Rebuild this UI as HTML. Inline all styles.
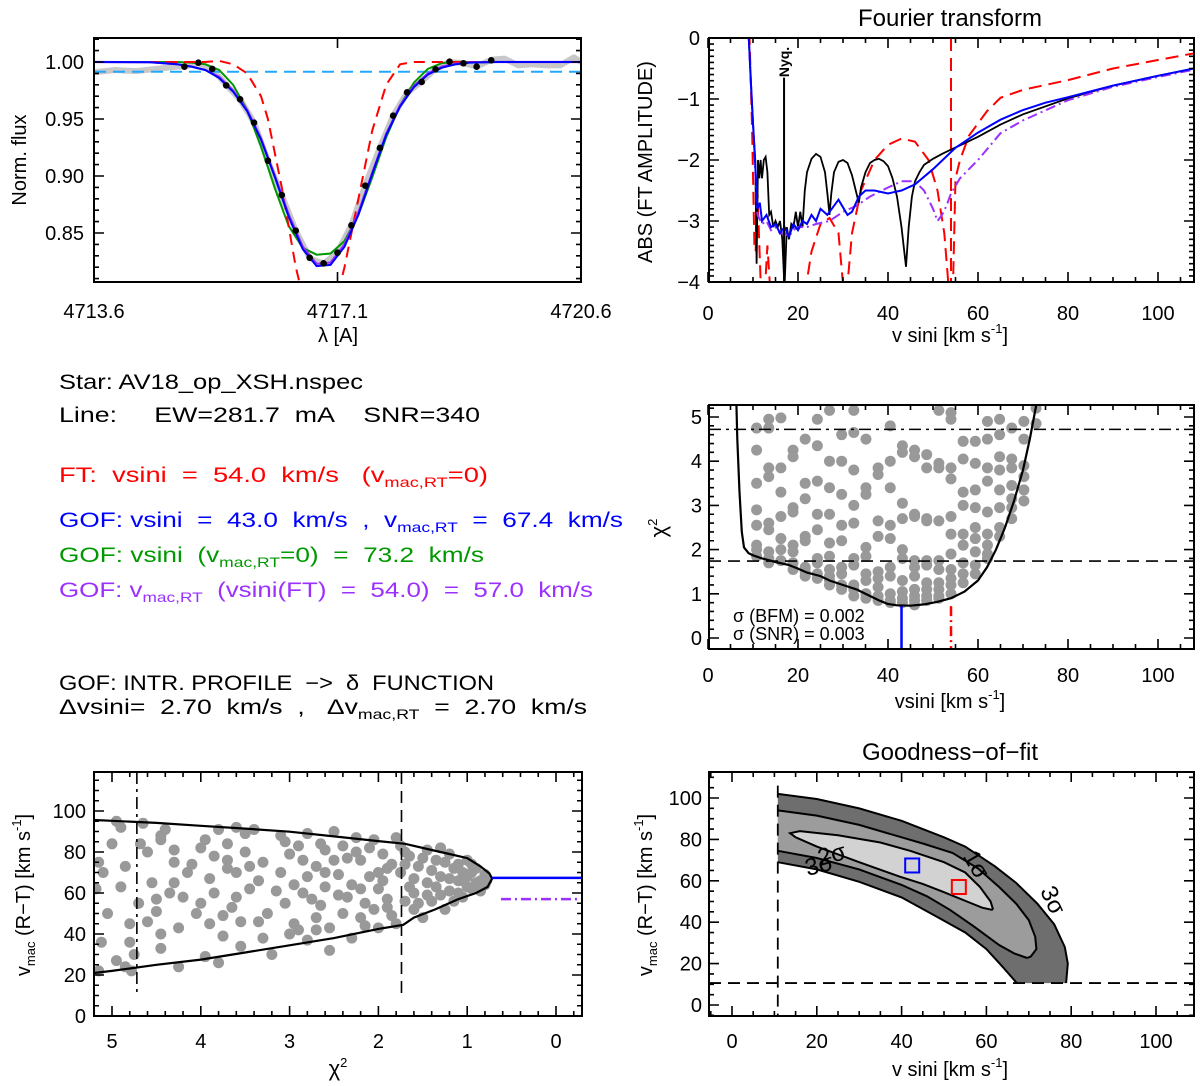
<!DOCTYPE html>
<html><head><meta charset="utf-8">
<style>
html,body{margin:0;padding:0;background:#fff;}
svg{display:block;font-family:"Liberation Sans",sans-serif;}
</style></head>
<body>
<svg id="fig" width="1200" height="1086" viewBox="0 0 1200 1086" xmlns="http://www.w3.org/2000/svg">
<defs>
<clipPath id="c1"><rect x="94" y="38" width="487" height="244"/></clipPath>
<clipPath id="c2"><rect x="709" y="38" width="485" height="244"/></clipPath>
<clipPath id="c3"><rect x="709" y="405" width="485" height="244"/></clipPath>
<clipPath id="c4"><rect x="94" y="772" width="488" height="244"/></clipPath>
<clipPath id="c6"><rect x="709" y="772" width="485" height="244"/></clipPath>
</defs>
<g font-size="21">
<text x="59" y="389" textLength="304" lengthAdjust="spacingAndGlyphs">Star: AV18_op_XSH.nspec</text>
<text x="59" y="422" textLength="421" lengthAdjust="spacingAndGlyphs" xml:space="preserve">Line:     EW=281.7  mA    SNR=340</text>
<text x="59" y="482" fill="#ff0000" textLength="429" lengthAdjust="spacingAndGlyphs" xml:space="preserve">FT:  vsini  =  54.0  km/s   (v<tspan font-size="14" dy="5">mac,RT</tspan><tspan dy="-5">=0)</tspan></text>
<text x="59" y="527" fill="#0000ff" textLength="564" lengthAdjust="spacingAndGlyphs" xml:space="preserve">GOF: vsini  =  43.0  km/s  ,  v<tspan font-size="14" dy="5">mac,RT</tspan><tspan dy="-5">  =  67.4  km/s</tspan></text>
<text x="59" y="562" fill="#009900" textLength="425" lengthAdjust="spacingAndGlyphs" xml:space="preserve">GOF: vsini  (v<tspan font-size="14" dy="5">mac,RT</tspan><tspan dy="-5">=0)  =  73.2  km/s</tspan></text>
<text x="59" y="597" fill="#9b30ff" textLength="534" lengthAdjust="spacingAndGlyphs" xml:space="preserve">GOF: v<tspan font-size="14" dy="5">mac,RT</tspan><tspan dy="-5">  (vsini(FT)  =  54.0)  =  57.0  km/s</tspan></text>
<text x="59" y="690" textLength="435" lengthAdjust="spacingAndGlyphs" xml:space="preserve">GOF: INTR. PROFILE  −&gt;  δ  FUNCTION</text>
<text x="59" y="714" textLength="528" lengthAdjust="spacingAndGlyphs" xml:space="preserve">Δvsini=  2.70  km/s  ,   Δv<tspan font-size="14" dy="5">mac,RT</tspan><tspan dy="-5">  =  2.70  km/s</tspan></text>
</g>
</svg>
<script>
// ===== Panel 1: line profile data =====
const p1DotLam = [4714.90,4715.10,4715.30,4715.50,4715.70,4715.90,4716.10,4716.30,4716.50,4716.70,4716.90,4717.10,4717.30,4717.50,4717.71,4717.90,4718.10,4718.31,4718.51,4718.71,4718.91,4719.10,4719.31];
const p1DotFlux = [0.9959,0.9994,0.9939,0.9795,0.9673,0.9468,0.9134,0.8833,0.852,0.8283,0.8234,0.8327,0.8567,0.8915,0.9246,0.9529,0.9734,0.9825,0.9936,1.0003,0.9989,0.9959,1.0015];
const p1ObsLam = [4713.6,4713.9,4714.2,4714.5,4714.8,4714.9,4715.1,4715.3,4715.5,4715.7,4715.9,4716.1,4716.3,4716.5,4716.7,4716.9,4717.1,4717.3,4717.5,4717.71,4717.9,4718.1,4718.31,4718.51,4718.71,4718.91,4719.1,4719.31,4719.5,4719.7,4719.9,4720.1,4720.3,4720.5,4720.6];
const p1ObsFlux = [0.991,0.993,0.992,0.994,0.996,0.996,0.999,0.994,0.980,0.967,0.947,0.913,0.883,0.852,0.828,0.823,0.833,0.857,0.892,0.925,0.953,0.973,0.983,0.994,1.000,0.999,0.996,1.002,1.003,0.997,0.998,0.997,0.997,1.004,1.000];
const p1Lam = [4713.6,4714.4,4714.8,4715.0,4715.2,4715.4,4715.6,4715.8,4716.0,4716.2,4716.4,4716.6,4716.8,4717.0,4717.2,4717.4,4717.6,4717.8,4718.0,4718.2,4718.4,4718.6,4718.8,4719.0,4719.4,4720.6];
const p1Blue = [1.0,0.9998,0.998,0.996,0.993,0.986,0.974,0.957,0.932,0.899,0.864,0.836,0.821,0.822,0.838,0.866,0.902,0.936,0.961,0.978,0.989,0.995,0.998,0.9995,1.0,1.0];
const p1Purple = [1.0,0.9998,0.998,0.996,0.993,0.987,0.975,0.958,0.933,0.900,0.866,0.838,0.823,0.824,0.840,0.868,0.903,0.937,0.962,0.979,0.990,0.996,0.9985,0.9997,1.0,1.0];
const p1Green = [1.0,1.0,1.0,0.9995,0.998,0.993,0.980,0.958,0.926,0.889,0.856,0.837,0.831,0.832,0.843,0.866,0.899,0.934,0.962,0.982,0.994,0.999,1.0,1.0,1.0,1.0];
const p1RedLam = [4713.6,4715.2,4715.4,4715.6,4715.8,4716.0,4716.1,4716.3,4716.5,4716.6,4716.9,4717.1,4717.2,4717.4,4717.6,4717.8,4718.0,4718.2,4720.6];
const p1Red = [1.0,1.0,1.001,0.998,0.99,0.97,0.95,0.89,0.82,0.795,0.785,0.795,0.82,0.88,0.94,0.98,0.998,1.0,1.0];
const p1Cont = [0.9915];
const p1YTicks = [0.85,0.90,0.95,1.00];
const p1XTicks = [4713.6,4717.1,4720.6];

// ===== Panel 2: Fourier transform =====
const ftBlackV = [9,9.5,10,10.5,10.8,11.1,11.4,11.7,12,12.4,12.8,13.2,13.6,14,14.5,15,15.5,16,16.5,17,17.5,18,18.5,19,19.5,20,20.5,21,21.5,22,23,24,25,26,26.6,27,27.4,28,29,30,31,32,33,33.5,34,35,36,37,38,39,40,41,42,43,44,44.6,45.3,46,47,48,50,52,54,56,60,65,70,80,90,100,108];
const ftBlackA = [0.1,-0.7,-1.4,-2.0,-3.7,-2.0,-2.3,-2.0,-2.3,-2.0,-1.95,-2.2,-2.9,-2.85,-3.1,-3.0,-3.1,-3.0,-3.3,-4.1,-3.1,-3.3,-3.05,-3.1,-2.85,-3.1,-2.85,-3.1,-2.5,-2.2,-1.98,-1.9,-1.95,-2.2,-2.6,-2.9,-2.55,-2.2,-2.03,-2.0,-2.05,-2.25,-2.55,-2.7,-2.45,-2.2,-2.05,-2.0,-1.98,-2.02,-2.1,-2.3,-2.6,-3.1,-3.75,-3.1,-2.6,-2.35,-2.2,-2.08,-1.98,-1.9,-1.83,-1.76,-1.62,-1.42,-1.25,-0.99,-0.78,-0.62,-0.5];
const ftBlueV = [9,9.5,10,10.5,11,11.5,12,13,14,15,16,17,18,19,20,21,22,23,24,25,26.5,28,29,31,32,33.5,35,37,40,43,46,50,55,60,65,70,75,80,90,100,108];
const ftBlueA = [0.1,-0.7,-1.4,-2.1,-2.8,-2.7,-3.0,-2.9,-3.1,-3.05,-3.2,-3.1,-3.25,-3.05,-3.15,-3.0,-3.05,-2.9,-3.0,-2.8,-2.9,-2.75,-2.65,-2.9,-2.85,-2.6,-2.5,-2.5,-2.55,-2.5,-2.4,-2.15,-1.8,-1.55,-1.34,-1.18,-1.06,-0.97,-0.78,-0.62,-0.5];
const ftPurpleV = [9,9.5,10,10.5,11,12,13,14,15,16,17,18,19,20,22,24,27,30,33,36,40,43,46,48,50,51,52,53,54,56,60,65,70,80,90,100,108];
const ftPurpleA = [0.1,-0.7,-1.4,-2.2,-2.9,-3.05,-3.0,-3.15,-3.1,-3.2,-3.2,-3.25,-3.15,-3.1,-3.1,-3.05,-3.0,-2.85,-2.75,-2.6,-2.45,-2.35,-2.35,-2.5,-2.8,-3.0,-2.9,-2.75,-2.55,-2.3,-2.0,-1.56,-1.35,-1.02,-0.8,-0.64,-0.52];
const ftRedV = [9.2,9.8,10.3,10.6,10.9,11.3,11.8,null,12.6,13.2,13.9,null,21.5,23,25,27,29,30.2,null,30.8,32,34,37,40,43,46,49,51,52.5,53.6,null,54.4,55,56,58,62,65,70,80,90,100,108];
const ftRedA = [0.1,-1.5,-3.4,-3.5,-2.3,-3.2,-4.2,null,-4.2,-3.4,-4.2,null,-4.2,-3.5,-3.05,-2.95,-3.2,-4.2,null,-4.2,-3.2,-2.5,-2.0,-1.75,-1.65,-1.7,-2.0,-2.5,-3.2,-4.2,null,-4.2,-2.3,-2.0,-1.6,-1.2,-0.98,-0.85,-0.69,-0.5,-0.36,-0.25];
const ftVsini = [54.0];
const ftNyq = [16.9];
const p2XTicks = [0,20,40,60,80,100];
const p2YTicks = [0,-1,-2,-3,-4];

// ===== Panel 3: chi2 vs vsini =====
const chiCols = [10.8,13.5,16.2,18.9,21.6,24.3,27.0,29.7,32.4,35.1,37.8,40.5,43.2,45.9,48.6,51.3,54.0,56.7,59.4,62.1,64.8,67.5,70.2,72.9];
const chiColVals = [
[4.75,4.25,3.5,2.9,2.55,2.1,2.0,1.85],
[4.95,4.75,3.85,3.65,2.6,2.45,1.95,1.8,1.7],
[4.98,3.85,3.3,2.75,2.25,2.0,1.75],
[4.25,4.1,2.95,2.85,2.1,1.95,1.7,1.55],
[4.5,3.5,3.15,2.3,2.2,1.6,1.5,1.4],
[4.95,4.35,3.55,2.8,2.45,1.8,1.7,1.45,1.35],
[5.15,4.0,3.4,2.8,2.15,1.85,1.55,1.4,1.3,1.2],
[4.6,4.0,3.25,2.55,2.2,1.6,1.45,1.2,1.1],
[5.15,4.65,3.8,3.0,2.6,1.8,1.65,1.2,1.1,0.95],
[4.5,3.4,3.25,2.05,1.85,1.45,1.3,1.0,0.9],
[3.85,3.7,2.65,2.3,1.5,1.35,1.15,0.95,0.85],
[4.8,4.0,3.4,2.55,2.25,1.6,1.4,1.0,0.85,0.8],
[4.35,4.2,3.05,2.7,2.0,1.8,1.3,1.05,0.9,0.8],
[4.25,4.1,2.8,2.75,1.75,1.6,1.4,1.1,0.95,0.85,0.75],
[4.15,3.85,2.7,2.65,1.75,1.65,1.25,1.1,0.95,0.85],
[5.15,3.95,3.85,2.65,1.75,1.55,1.25,1.1,0.95,0.9],
[5.1,4.95,3.85,3.6,2.75,2.35,1.9,1.55,1.35,1.2,1.0],
[4.45,4.05,3.3,3.0,2.35,2.1,1.7,1.45,1.25],
[4.45,3.95,3.35,2.95,2.5,2.25,1.95,1.65,1.45],
[4.9,4.5,3.85,3.55,2.85,2.35,2.1,1.9,1.8],
[4.95,4.6,4.1,3.8,3.35,2.95,2.5,2.3],
[4.75,4.05,3.85,3.45,3.15,2.95,2.7],
[4.9,4.5,3.9,3.65,3.35,3.1],
[5.2,4.85]];
const chiCurveV = [6.3,6.5,7,7.5,8,9,10,12,15,18,20,22,25,27,30,33,36,38,40,42,45,48,51,54,57,60,62,64,66,68,70,71.5,73];
const chiCurveC = [5.3,4.5,3.3,2.4,2.05,1.92,1.87,1.8,1.72,1.65,1.57,1.48,1.4,1.3,1.2,1.1,0.95,0.85,0.77,0.74,0.73,0.76,0.82,0.9,1.05,1.3,1.6,2.0,2.5,3.1,3.8,4.5,5.3];
const chiLevels = [4.72,1.74];
const gofVsini = [43.0];
const p3XTicks = [0,20,40,60,80,100];
const p3YTicks = [0,1,2,3,4,5];

// ===== Panel 4: vmac vs chi2 =====
const p4Pts = [[5.15,75],[5.1,70],[5.18,62],[5.12,36],[5.15,22],[4.95,95],[4.9,92],[4.85,73],[4.9,63],[4.95,27],[4.8,45],[4.8,36],[4.85,24],[4.78,22],[4.65,94],[4.68,84],[4.55,65],[4.45,88],[4.4,91],[4.45,86],[4.5,57],[4.5,51],[4.45,40],[4.45,33],[4.3,81],[4.3,65],[4.25,43],[4.25,24],[4.15,70],[4.1,74],[4.05,50],[4.0,55],[3.95,29],[3.9,67],[3.85,78],[3.85,60],[3.8,91],[3.8,26],[3.75,49],[3.75,39],[3.7,84],[3.7,76],[3.7,72],[3.65,53],[3.6,92],[3.55,46],[3.55,34],[3.5,89],[3.45,62],[3.45,73],[3.4,91],[3.35,66],[3.35,46],[3.3,75],[3.2,30],[3.1,88],[3.05,85],[3.05,55],[3.0,79],[2.95,64],[2.95,45],[2.9,42],[2.85,76],[2.8,89],[2.8,68],[2.8,37],[2.75,57],[2.7,73],[2.65,84],[2.65,54],[2.6,81],[2.6,63],[2.55,43],[2.55,32],[2.5,90],[2.45,69],[2.4,50],[2.35,77],[2.3,64],[2.3,38],[2.25,87],[2.2,76],[2.2,48],[2.15,55],[2.1,82],[2.1,68],[2.05,86],[2.0,62],[2.0,43],[1.95,79],[1.9,53],[1.85,74],[1.8,45],[1.75,83],[1.75,70],[1.7,56],[1.65,78],[1.6,60],[1.55,73],[1.5,48],[1.45,81],[1.45,65],[1.4,56],[1.35,76],[1.3,68],[1.25,52],[1.2,79],[1.2,61],[1.15,72],[1.1,66],[1.05,58],[1.0,76],[1.0,68],[0.95,62],[0.9,72],[0.85,66],[0.8,69],[0.85,61],[1.6,67],[1.9,57],[2.45,59],[3.15,61],[3.6,58],[4.2,58],[4.7,55],[1.3,59],[1.1,74],[0.95,70],[1.5,77],[1.7,80],[2.0,70],[2.4,83],
[5.0,84],[4.6,80],[4.35,60],[4.0,82],[3.9,45],[3.6,70],[3.25,50],[3.0,40],[2.9,83],[2.7,48],[2.5,76],[2.35,58],[2.15,44],[1.95,66],[1.85,49],[1.8,87],[1.65,63],[1.55,55],[1.4,71],[1.3,82],[1.2,67],[1.1,60],[1.05,70],[0.9,65],[0.8,64],[1.0,63],[1.25,75],[1.45,59],[1.7,74],[2.05,52],[2.25,80],[2.6,70],[2.85,60],[3.1,70],[3.5,80],[3.95,86],[4.3,75],[4.6,46],[5.05,50],[4.75,30],[3.3,38],[2.7,42],[2.2,62],[1.9,72],[1.6,52],[1.35,63],[1.15,56],[0.95,74],[0.78,66],[1.05,66]];
const p4CurveC = [5.3,5,4.5,4,3.5,3,2.5,2,1.7,1.4,1.2,1.0,0.85,0.75,0.72,0.77,0.9,1.1,1.36,1.6,1.72,2,2.5,3,3.5,4,4.5,5,5.3];
const p4CurveV = [95.8,95.2,94.2,92.8,91.4,89.9,87.6,85.3,84,81,79,77,73,69.5,67,63,60,57,52,48,44.5,42.5,38,34.5,31,27.5,25,22,20.5];
const gofVmac = [67.4];
const ftVmac = [57.0];
const p4XTicks = [5,4,3,2,1,0];
const p4YTicks = [0,20,40,60,80,100];

// ===== Panel 6: goodness-of-fit contours =====
const u3V=[10.8,20,30,40,50,55,62,67,72,76,78.5,79.2,78.8];
const u3M=[102,99.5,95,89,81,76.5,67,59,49,39,28,20,10.6];
const l3V=[10.8,20,30,40,48,55,60,64,67.2];
const l3M=[69,65.5,59.5,52,43,35,27,18,10.6];
const u2V=[10.8,20,30,40,45,52,58,63,67,70,71.5,71.8,70.5,69.6];
const u2M=[94,91.5,87,81,78,73.5,66,57,49,41,33,27,23.5,22.7];
const l2V=[10.8,20,30,40,46,51.4,57,63,66.5,69.6];
const l2M=[74.5,71,65.5,58,52.5,46,38,29,25,22.7];
const s1V=[13.7,16,25,35,42,50,55,58.5,61,61.5,61.3,59,55.4,50,45,39.6,30,20,15,13.7];
const s1M=[83,84,82,78.5,74.5,69,64,57,50,46.5,46,47,50,54.5,58.5,62,69,76.5,81,83];
const minVsini=[10.8];
const minVmac=[10.6];
const bestBlue=[42.5,67.4];
const bestRed=[53.5,57.0];
const p6XTicks=[0,20,40,60,80,100];
const p6YTicks=[0,20,40,60,80,100];

const NS='http://www.w3.org/2000/svg';
const svg=document.getElementById('fig');
function mk(tag,attrs,parent){const e=document.createElementNS(NS,tag);for(const k in attrs)e.setAttribute(k,attrs[k]);(parent||svg).appendChild(e);return e;}
function lin(d0,d1,r0,r1){return v=>r0+(v-d0)*(r1-r0)/(d1-d0);}
function pathD(xs,ys,sx,sy){let d='',pen=false;for(let i=0;i<xs.length;i++){if(xs[i]===null){pen=false;continue;}d+=(pen?'L':'M')+sx(xs[i]).toFixed(1)+','+sy(ys[i]).toFixed(1);pen=true;}return d;}
function range(a,b,s){const r=[];for(let v=a;v<=b+1e-9;v+=s)r.push(+v.toFixed(4));return r;}

function frame(g,box,sx,sy,xMaj,xMin,yMaj,yMin,xFmt,yFmt,xLabY,yLabX){
  const fr=mk('rect',{x:box.x1,y:box.y1,width:box.x2-box.x1,height:box.y2-box.y1,fill:'none',stroke:'#000','stroke-width':2},g);
  
  
  let d='';
  xMin.forEach(v=>{const x=sx(v);if(x<box.x1-0.5||x>box.x2+0.5)return;d+=`M${x},${box.y2}v-5M${x},${box.y1}v5`;});
  yMin.forEach(v=>{const y=sy(v);if(y<box.y1-0.5||y>box.y2+0.5)return;d+=`M${box.x1},${y}h5M${box.x2},${y}h-5`;});
  xMaj.forEach(v=>{const x=sx(v);d+=`M${x},${box.y2}v-10M${x},${box.y1}v10`;});
  yMaj.forEach(v=>{const y=sy(v);d+=`M${box.x1},${y}h10M${box.x2},${y}h-10`;});
  const t=mk('path',{d:d,stroke:'#000','stroke-width':1.6,fill:'none'},g);
  
  
  xMaj.forEach(v=>{const tx=mk('text',{x:sx(v),y:xLabY,'text-anchor':'middle','font-size':20},g);tx.textContent=xFmt(v);
    
    });
  yMaj.forEach(v=>{const ty=mk('text',{x:yLabX,y:sy(v)+7,'text-anchor':'end','font-size':20},g);ty.textContent=yFmt(v);
    
    });
}
function txt(g,x,y,s,attrs){const t=mk('text',Object.assign({x:x,y:y,'text-anchor':'middle','font-size':20},attrs||{}),g);t.innerHTML=s;return t;}
const neg=v=>String(v).replace('-','−');

// ---------- Panel 1 ----------
{
const g=mk('g',{});


const box={x1:94,x2:581,y1:38,y2:282};
const sx=lin(4713.6,4720.6,94,581), sy=lin(0.85,1.0,233,62);
const pg=mk('g',{'clip-path':'url(#c1)'},g);
const obs=mk('path',{d:pathD(p1ObsLam,p1ObsFlux,sx,sy),stroke:'#c8c8c8','stroke-width':6,fill:'none','stroke-linejoin':'round'},pg);


const cont=mk('line',{x1:box.x1,x2:box.x2,y1:sy(p1Cont[0]),y2:sy(p1Cont[0]),stroke:'#22a8ff','stroke-width':2,'stroke-dasharray':'12,7'},pg);


const gr=mk('path',{d:pathD(p1Lam,p1Green,sx,sy),stroke:'#009900','stroke-width':2,fill:'none'},pg);


const rd=mk('path',{d:pathD(p1RedLam,p1Red,sx,sy),stroke:'#ff0000','stroke-width':2,fill:'none','stroke-dasharray':'11,7'},pg);


const pu=mk('path',{d:pathD(p1Lam,p1Purple,sx,sy),stroke:'#9b30ff','stroke-width':2.2,fill:'none'},pg);


const bl=mk('path',{d:pathD(p1Lam,p1Blue,sx,sy),stroke:'#0000ff','stroke-width':2,fill:'none'},pg);


p1DotLam.forEach((l,i)=>{const c=mk('circle',{cx:sx(l),cy:sy(p1DotFlux[i]),r:3.3,fill:'#000'},pg);
  
  });
frame(g,box,sx,sy,p1XTicks,[],p1YTicks,range(0.81,1.02,0.01),v=>v.toFixed(1),v=>v.toFixed(2),318,84);
const xt=txt(g,338,342,'λ [A]');


const yt=txt(g,0,0,'Norm.  flux',{transform:'translate(26,160) rotate(-90)','xml:space':'preserve'});


}
// ---------- Panel 2 ----------
{
const g=mk('g',{});


const box={x1:709,x2:1194,y1:38,y2:282};
const sx=lin(0,100,708,1158), sy=lin(0,-4,38,282);
const pg=mk('g',{'clip-path':'url(#c2)'},g);
const rv=mk('line',{x1:sx(ftVsini[0]),x2:sx(ftVsini[0]),y1:box.y1,y2:box.y2,stroke:'#ff0000','stroke-width':2,'stroke-dasharray':'13,7'},pg);


const rc=mk('path',{d:pathD(ftRedV,ftRedA,sx,sy),stroke:'#ff0000','stroke-width':2,fill:'none','stroke-dasharray':'13,7'},pg);


const bk=mk('path',{d:pathD(ftBlackV,ftBlackA,sx,sy),stroke:'#000','stroke-width':1.8,fill:'none'},pg);


const pc=mk('path',{d:pathD(ftPurpleV,ftPurpleA,sx,sy),stroke:'#9b30ff','stroke-width':2,fill:'none','stroke-dasharray':'10,4,2,4'},pg);


const bc=mk('path',{d:pathD(ftBlueV,ftBlueA,sx,sy),stroke:'#0000ff','stroke-width':2,fill:'none'},pg);


const ny=mk('line',{x1:sx(ftNyq[0]),x2:sx(ftNyq[0]),y1:sy(-0.65),y2:box.y2,stroke:'#000','stroke-width':2},pg);


const nt=txt(g,0,0,'Nyq.',{transform:`translate(${sx(ftNyq[0])+5},62) rotate(-90)`,'font-size':14,'font-weight':'bold'});


frame(g,box,sx,sy,p2XTicks,range(0,105,5),p2YTicks,range(-4,0,0.1),v=>String(v),neg,320,700);
const tt=txt(g,950,26,'Fourier  transform',{'font-size':24,'xml:space':'preserve'});


const xt=txt(g,950,342,'v  sini  [km  s<tspan font-size="13" dy="-9">-1</tspan><tspan dy="9">]</tspan>',{'xml:space':'preserve'});


const yt=txt(g,0,0,'ABS  (FT  AMPLITUDE)',{transform:'translate(652,162) rotate(-90)','xml:space':'preserve'});


}
// ---------- Panel 3 ----------
{
const g=mk('g',{});


const box={x1:709,x2:1194,y1:405,y2:649};
const sx=lin(0,100,708,1158), sy=lin(0,5,638,417);
const pg=mk('g',{'clip-path':'url(#c3)'},g);
chiCols.forEach((v,i)=>chiColVals[i].forEach(c=>{const d=mk('circle',{cx:sx(v),cy:sy(c),r:5.5,fill:'#999'},pg);
  
  }));
const l1=mk('line',{x1:box.x1,x2:box.x2,y1:sy(chiLevels[0]),y2:sy(chiLevels[0]),stroke:'#000','stroke-width':1.6,'stroke-dasharray':'12,5,3,5'},pg);


const l2=mk('line',{x1:box.x1,x2:box.x2,y1:sy(chiLevels[1]),y2:sy(chiLevels[1]),stroke:'#000','stroke-width':1.6,'stroke-dasharray':'12,7'},pg);


const cv=mk('path',{d:pathD(chiCurveV,chiCurveC,sx,sy),stroke:'#000','stroke-width':2.2,fill:'none'},pg);


const bv=mk('line',{x1:sx(gofVsini[0]),x2:sx(gofVsini[0]),y1:sy(0.72),y2:box.y2,stroke:'#0000ff','stroke-width':2.5},pg);


const rv=mk('line',{x1:sx(ftVsini[0]),x2:sx(ftVsini[0]),y1:sy(0.72),y2:box.y2,stroke:'#ff0000','stroke-width':2.5,'stroke-dasharray':'10,4,2,4'},pg);


frame(g,box,sx,sy,p3XTicks,range(0,105,5),p3YTicks,range(0,5.2,0.2),v=>String(v),v=>String(v),682,702);
const s1=txt(g,733,622,'σ  (BFM)  =  0.002',{'text-anchor':'start','font-size':18,'xml:space':'preserve'});


const s2=txt(g,733,640,'σ  (SNR)  =  0.003',{'text-anchor':'start','font-size':18,'xml:space':'preserve'});


const xt=txt(g,950,708,'vsini  [km  s<tspan font-size="13" dy="-9">-1</tspan><tspan dy="9">]</tspan>',{'xml:space':'preserve'});


const yt=txt(g,0,0,'χ<tspan font-size="13" dy="-9">2</tspan>',{transform:'translate(666,528) rotate(-90)','font-size':22});


}
// ---------- Panel 4 ----------
{
const g=mk('g',{});


const box={x1:94,x2:582,y1:772,y2:1016};
const sx=lin(0,5,556,112), sy=lin(0,100,1016,811);
const pg=mk('g',{'clip-path':'url(#c4)'},g);
p4Pts.forEach(p=>{const d=mk('circle',{cx:sx(p[0]),cy:sy(p[1]),r:5.5,fill:'#999'},pg);
  
  });
const v1=mk('line',{x1:sx(chiLevels[0]),x2:sx(chiLevels[0]),y1:box.y1,y2:sy(10),stroke:'#000','stroke-width':1.6,'stroke-dasharray':'12,5,3,5'},pg);


const v2=mk('line',{x1:sx(chiLevels[1]),x2:sx(chiLevels[1]),y1:box.y1,y2:sy(10),stroke:'#000','stroke-width':1.6,'stroke-dasharray':'12,7'},pg);


const cv=mk('path',{d:pathD(p4CurveC,p4CurveV,sx,sy),stroke:'#000','stroke-width':2.2,fill:'none'},pg);


const bh=mk('line',{x1:sx(0.72),x2:box.x2,y1:sy(gofVmac[0]),y2:sy(gofVmac[0]),stroke:'#0000ff','stroke-width':2.5},pg);


const ph=mk('line',{x1:sx(0.62),x2:box.x2,y1:sy(ftVmac[0]),y2:sy(ftVmac[0]),stroke:'#9b30ff','stroke-width':2.5,'stroke-dasharray':'10,4,2,4'},pg);


frame(g,box,sx,sy,p4XTicks,range(-0.2,5.2,0.2),p4YTicks,range(0,115,5),v=>String(v),v=>String(v),1048,86);
const xt=txt(g,338,1076,'χ<tspan font-size="13" dy="-9">2</tspan>',{'font-size':22});


const yt=txt(g,0,0,'v<tspan font-size="13" dy="5">mac</tspan><tspan dy="-5">  (R−T)  [km  s</tspan><tspan font-size="13" dy="-9">-1</tspan><tspan dy="9">]</tspan>',{transform:'translate(30,895) rotate(-90)','xml:space':'preserve'});


}
// ---------- Panel 6 ----------
{
const g=mk('g',{});


const box={x1:709,x2:1194,y1:772,y2:1016};
const sx=lin(0,100,732,1156), sy=lin(0,100,1005,798);
const pg=mk('g',{'clip-path':'url(#c6)'},g);
const band=(uV,uM,lV,lM)=>pathD(uV.concat(lV.slice().reverse()),uM.concat(lM.slice().reverse()),sx,sy)+'Z';
const r3=mk('path',{d:band(u3V,u3M,l3V,l3M),fill:'#6e6e6e'},pg);


const r2=mk('path',{d:band(u2V,u2M,l2V,l2M),fill:'#9c9c9c'},pg);


const r1=mk('path',{d:pathD(s1V,s1M,sx,sy)+'Z',fill:'#d2d2d2',stroke:'#000','stroke-width':2},pg);


[[u3V,u3M,'contour-3sigma-upper'],[l3V,l3M,'contour-3sigma-lower'],[u2V,u2M,'contour-2sigma-upper'],[l2V,l2M,'contour-2sigma-lower']].forEach(c=>{
  const p=mk('path',{d:pathD(c[0],c[1],sx,sy),stroke:'#000','stroke-width':2,fill:'none'},pg);
  
  });
const vd=mk('line',{x1:sx(minVsini[0]),x2:sx(minVsini[0]),y1:sy(106),y2:box.y2,stroke:'#000','stroke-width':1.8,'stroke-dasharray':'12,7'},pg);


const hd=mk('line',{x1:box.x1,x2:box.x2,y1:sy(minVmac[0]),y2:sy(minVmac[0]),stroke:'#000','stroke-width':1.8,'stroke-dasharray':'12,7'},pg);


const bs=mk('rect',{x:sx(bestBlue[0])-7,y:sy(bestBlue[1])-7,width:14,height:14,fill:'none',stroke:'#0000ff','stroke-width':2},pg);


const rs=mk('rect',{x:sx(bestRed[0])-7,y:sy(bestRed[1])-7,width:14,height:14,fill:'none',stroke:'#ff0000','stroke-width':2},pg);


const labs=[[21,64,'3σ',-15],[24,69,'2σ',-15],[56,66,'1σ',60],[74,49,'3σ',65]];
labs.forEach(l=>{const t=txt(pg,0,0,l[2],{transform:`translate(${sx(l[0])},${sy(l[1])}) rotate(${l[3]})`,'font-size':24});
  
  });
frame(g,box,sx,sy,p6XTicks,range(-5,105,5),p6YTicks,range(-5,110,5),v=>String(v),v=>String(v),1048,702);
const tt=txt(g,950,760,'Goodness−of−fit',{'font-size':24});


const xt=txt(g,950,1076,'v  sini  [km  s<tspan font-size="13" dy="-9">-1</tspan><tspan dy="9">]</tspan>',{'xml:space':'preserve'});


const yt=txt(g,0,0,'v<tspan font-size="13" dy="5">mac</tspan><tspan dy="-5">  (R−T)  [km  s</tspan><tspan font-size="13" dy="-9">-1</tspan><tspan dy="9">]</tspan>',{transform:'translate(652,895) rotate(-90)','xml:space':'preserve'});


}
</script>
</body></html>
